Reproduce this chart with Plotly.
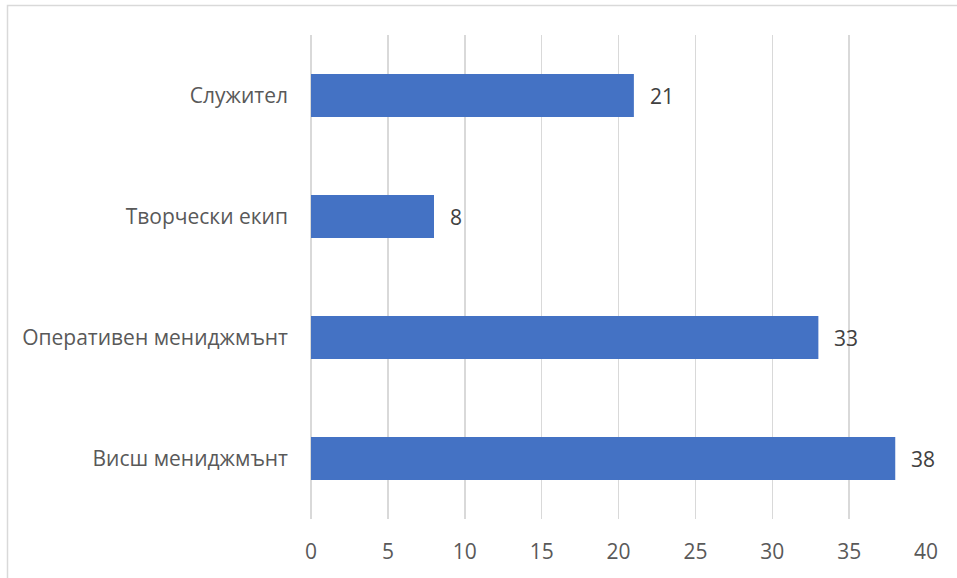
import plotly.graph_objects as go

categories = ["Висш мениджмънт", "Оперативен мениджмънт", "Творчески екип", "Служител"]
values = [38, 33, 8, 21]
x_ticks = [0, 5, 10, 15, 20, 25, 30, 35, 40]

W, H = 957, 578
L, T = 311, 35
pw, ph = 615, 484
R = W - L - pw
B = H - T - ph

FONT = "Open Sans"
FS = 21

fig = go.Figure()
fig.add_trace(go.Bar(
    x=values, y=categories, orientation="h",
    marker=dict(color="#4472C4", line=dict(width=0)),
    width=0.355, hoverinfo="skip",
))

for v, c in zip(values, categories):
    fig.add_annotation(x=v, y=c, text=str(v), showarrow=False,
                       xanchor="left", xshift=14,
                       font=dict(family=FONT, size=FS, color="#404040"))

# chart-area border (only top/left visible in the reference)
def px2x(p):
    return (p - L) / pw

def py2y(p):
    return (T + ph - p) / ph

fig.add_shape(type="rect", xref="paper", yref="paper",
              x0=px2x(7.5), x1=px2x(975), y0=py2y(600), y1=py2y(5.5),
              line=dict(color="#d9d9d9", width=1.5), fillcolor="rgba(0,0,0,0)",
              layer="below")

fig.update_layout(
    width=W, height=H,
    margin=dict(l=L, r=R, t=T, b=B, autoexpand=False),
    paper_bgcolor="white", plot_bgcolor="white",
    showlegend=False,
    font=dict(family=FONT, size=FS, color="#595959"),
    xaxis=dict(range=[0, 40], tickvals=x_ticks, showgrid=True,
               gridcolor="#d9d9d9", gridwidth=1.5,
               zeroline=True, zerolinecolor="#d9d9d9", zerolinewidth=1.5,
               showline=False, ticks="", ticklabelstandoff=18,
               tickfont=dict(family=FONT, size=FS, color="#595959")),
    yaxis=dict(type="category", categoryorder="array", categoryarray=categories,
               range=[-0.5, 3.5], showgrid=False, zeroline=False,
               showline=False, ticks="", ticklabelstandoff=22,
               tickfont=dict(family=FONT, size=FS, color="#595959")),
)

fig.write_html("out.html",
               config={"displayModeBar": False, "staticPlot": True},
               post_script="document.body.style.margin='0';document.body.style.overflow='hidden';")
